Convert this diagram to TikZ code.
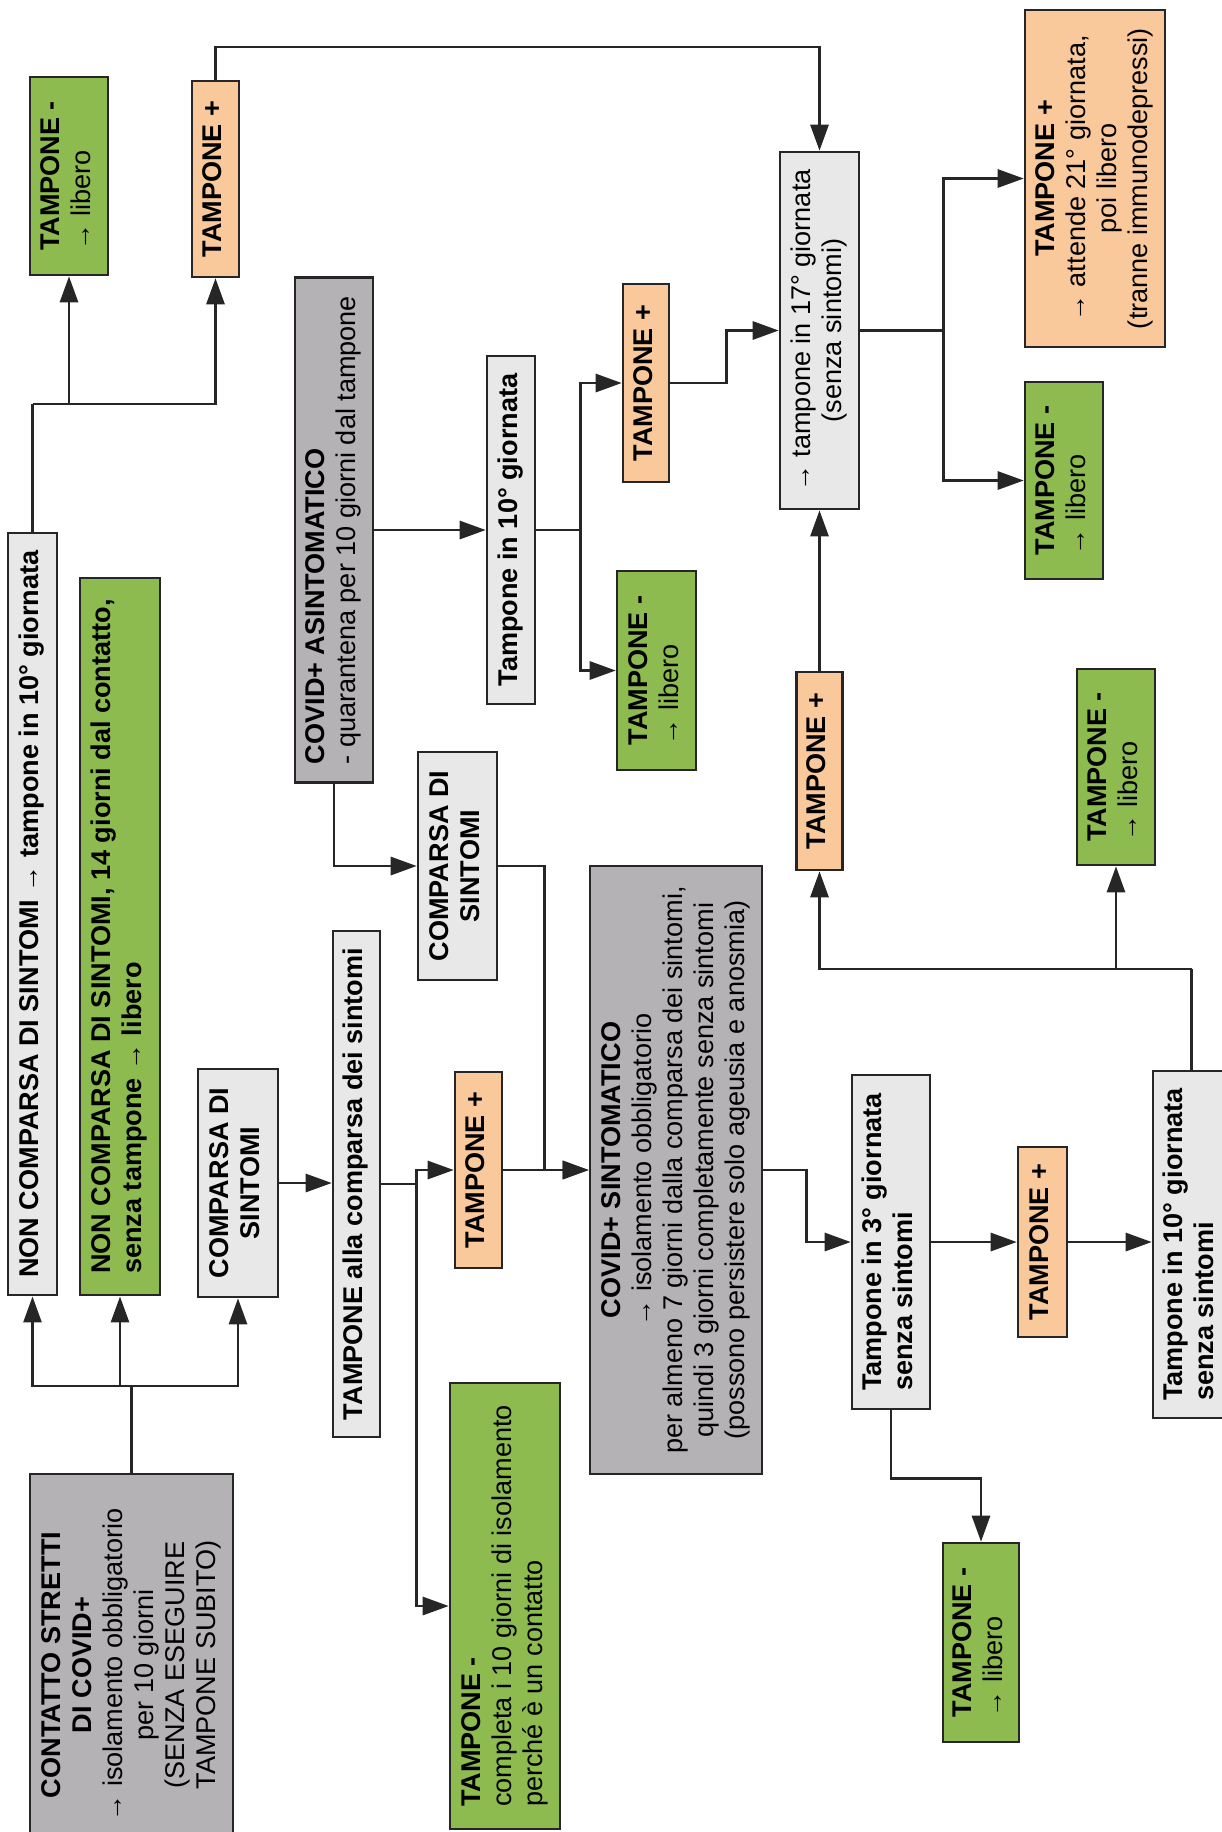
\documentclass[tikz,border=0pt]{standalone}
\usepackage{fontspec}
\setmainfont{Liberation Sans}
\usetikzlibrary{arrows.meta}

\definecolor{boxlight}{HTML}{E8E8E8}
\definecolor{boxdark}{HTML}{B4B2B4}
\definecolor{boxgreen}{HTML}{8DBB4F}
\definecolor{boxpeach}{HTML}{F9C99B}

\newcommand{\vtext}[2]{\rotatebox{90}{\begin{tabular}{@{}#1@{}}#2\end{tabular}}}

\tikzset{
	box/.style={draw=black!85, line width=0.7pt, inner sep=0pt, font=\fontsize{7.7}{8.8}\selectfont},
	light/.style={box, fill=boxlight},
	dark/.style={box, fill=boxdark},
	good/.style={box, fill=boxgreen},
	bad/.style={box, fill=boxpeach},
	link/.style={line width=0.8pt, draw=black!85},
	arr/.style={link, -{Triangle[length=2.6mm,width=1.8mm]}},
}

\begin{document}
\begin{tikzpicture}[x=0.01cm, y=-0.01cm]
	\fill[white] (0,0) rectangle (1222,1832);
	\useasboundingbox (0,0) rectangle (1222,1832);

	\node[dark, minimum width=2.03cm, minimum height=3.82cm] (contact) at (131.5,1665) {\vtext{c}{\textbf{CONTATTO STRETTI}\\\textbf{DI COVID+}\\→ isolamento obbligatorio\\per 10 giorni\\(SENZA ESEGUIRE\\TAMPONE SUBITO)}};
	\node[light, minimum width=0.49cm, minimum height=7.62cm] (ncs1) at (32.5,914) {\vtext{l}{\textbf{NON COMPARSA DI SINTOMI → tampone in 10° giornata}}};
	\node[good, minimum width=0.80cm, minimum height=7.17cm] (ncs2) at (120,936.5) {\vtext{l}{\textbf{NON COMPARSA DI SINTOMI, 14 giorni dal contatto,}\\\textbf{senza tampone → libero}}};
	\node[light, minimum width=0.80cm, minimum height=2.28cm] (cs1) at (238,1183) {\vtext{c}{\textbf{COMPARSA DI}\\\textbf{SINTOMI}}};
	\node[good, minimum width=0.78cm, minimum height=1.98cm] (neg1) at (69,176) {\vtext{l}{\textbf{TAMPONE -}\\→ libero}};
	\node[bad, minimum width=0.47cm, minimum height=1.96cm] (pos1) at (215.5,179) {\vtext{l}{\textbf{TAMPONE +}}};

	\node[dark, minimum width=0.78cm, minimum height=5.05cm] (asym) at (334,530) {\vtext{l}{\textbf{COVID+ ASINTOMATICO}\\- quarantena per 10 giorni dal tampone}};
	\node[light, minimum width=0.47cm, minimum height=5.06cm] (talla) at (356.5,1184) {\vtext{l}{\textbf{TAMPONE alla comparsa dei sintomi}}};
	\node[light, minimum width=0.79cm, minimum height=2.28cm] (cs2) at (457.5,866) {\vtext{c}{\textbf{COMPARSA DI}\\\textbf{SINTOMI}}};
	\node[bad, minimum width=0.47cm, minimum height=1.96cm] (pos2) at (478.5,1170) {\vtext{l}{\textbf{TAMPONE +}}};
	\node[good, minimum width=1.10cm, minimum height=4.46cm] (negc) at (505,1606) {\vtext{l}{\textbf{TAMPONE -}\\completa i 10 giorni di isolamento\\perché è un contatto}};
	\node[light, minimum width=0.48cm, minimum height=3.48cm] (t10) at (511,530) {\vtext{l}{\textbf{Tampone in 10° giornata}}};
	\node[bad, minimum width=0.46cm, minimum height=1.98cm] (pos3) at (646,383) {\vtext{l}{\textbf{TAMPONE +}}};
	\node[good, minimum width=0.79cm, minimum height=1.99cm] (neg2) at (656.5,670.5) {\vtext{l}{\textbf{TAMPONE -}\\→ libero}};
	\node[dark, minimum width=1.72cm, minimum height=6.08cm] (sym) at (676,1170) {\vtext{c}{\textbf{COVID+ SINTOMATICO}\\→ isolamento obbligatorio\\per almeno 7 giorni dalla comparsa dei sintomi,\\quindi 3 giorni completamente senza sintomi\\(possono persistere solo ageusia e anosmia)}};

	\node[light, minimum width=0.79cm, minimum height=3.57cm] (t17) at (819.5,330.5) {\vtext{c}{→ tampone in 17° giornata\\(senza sintomi)}};
	\node[bad, minimum width=0.46cm, minimum height=1.98cm] (pos4) at (819.5,771) {\vtext{l}{\textbf{TAMPONE +}}};
	\node[light, minimum width=0.78cm, minimum height=3.34cm] (t3) at (891,1242) {\vtext{l}{\textbf{Tampone in 3° giornata}\\\textbf{senza sintomi}}};
	\node[good, minimum width=0.76cm, minimum height=1.99cm] (neg3) at (981,1642.5) {\vtext{l}{\textbf{TAMPONE -}\\→ libero}};
	\node[bad, minimum width=0.49cm, minimum height=1.90cm] (pos5) at (1042.5,1242) {\vtext{l}{\textbf{TAMPONE +}}};
	\node[bad, minimum width=1.40cm, minimum height=3.37cm] (pos21) at (1095,178.5) {\vtext{c}{\textbf{TAMPONE +}\\→ attende 21° giornata,\\poi libero\\(tranne immunodepressi)}};
	\node[good, minimum width=0.78cm, minimum height=1.97cm] (neg4) at (1064,480.5) {\vtext{l}{\textbf{TAMPONE -}\\→ libero}};
	\node[good, minimum width=0.78cm, minimum height=1.96cm] (neg5) at (1116,767) {\vtext{l}{\textbf{TAMPONE -}\\→ libero}};
	\node[light, minimum width=0.77cm, minimum height=3.47cm] (t10s) at (1191.5,1244.5) {\vtext{l}{\textbf{Tampone in 10° giornata}\\\textbf{senza sintomi}}};

	\coordinate (jc) at (131.5,1386);
	\coordinate (j1) at (32.5,404);
	\coordinate (top) at (0,47);
	\coordinate (j3) at (1191.5,969);

	\draw[link] (contact.north) -- (jc);
	\draw[arr] (jc) -| (ncs1.south);
	\draw[arr] (jc) -| (cs1.south);
	\draw[arr] (jc -| ncs2.south) -- (ncs2.south);
	\draw[link] (ncs1.north) -- (j1);
	\draw[arr] (j1) -| (pos1.south);
	\draw[arr] (j1 -| neg1.south) -- (neg1.south);
	\draw[arr] (pos1.north) |- (top -| t17.north) -- (t17.north);
	\draw[arr] (cs1.east) -- (cs1.east -| talla.west);
	\draw[arr] (talla.east) -- ++(35,0) |- (pos2.west);
	\draw[arr] (talla.east) -- ++(35,0) |- (negc.west);
	\draw[arr] (asym.east) -- (t10.west);
	\draw[arr] (asym.south) |- (cs2.west);
	\draw[arr] (cs2.east) -- ++(46,0) |- (sym.west);
	\draw[arr] (pos2.east) -- (sym.west);
	\draw[arr] (t10.east) -- ++(44,0) |- (pos3.west);
	\draw[arr] (t10.east) -- ++(44,0) |- (neg2.west);
	\draw[arr] (pos3.east) -- ++(56,0) |- (t17.west);
	\draw[arr] (pos4.north) -- (t17.south);
	\draw[arr] (t17.east) -- ++(83,0) |- (pos21.west);
	\draw[arr] (t17.east) -- ++(83,0) |- (neg4.west);
	\draw[arr] (sym.east) -- ++(43,0) |- (t3.west);
	\draw[arr] (t3.east) -- (pos5.west);
	\draw[arr] (pos5.east) -- (pos5.east -| t10s.west);
	\draw[link] (t10s.north) -- (j3);
	\draw[arr] (j3) -| (pos4.south);
	\draw[arr] (j3 -| neg5.south) -- (neg5.south);
	\draw[arr] (t3.south) -- ++(0,68) -| (neg3.north);
\end{tikzpicture}
\end{document}
